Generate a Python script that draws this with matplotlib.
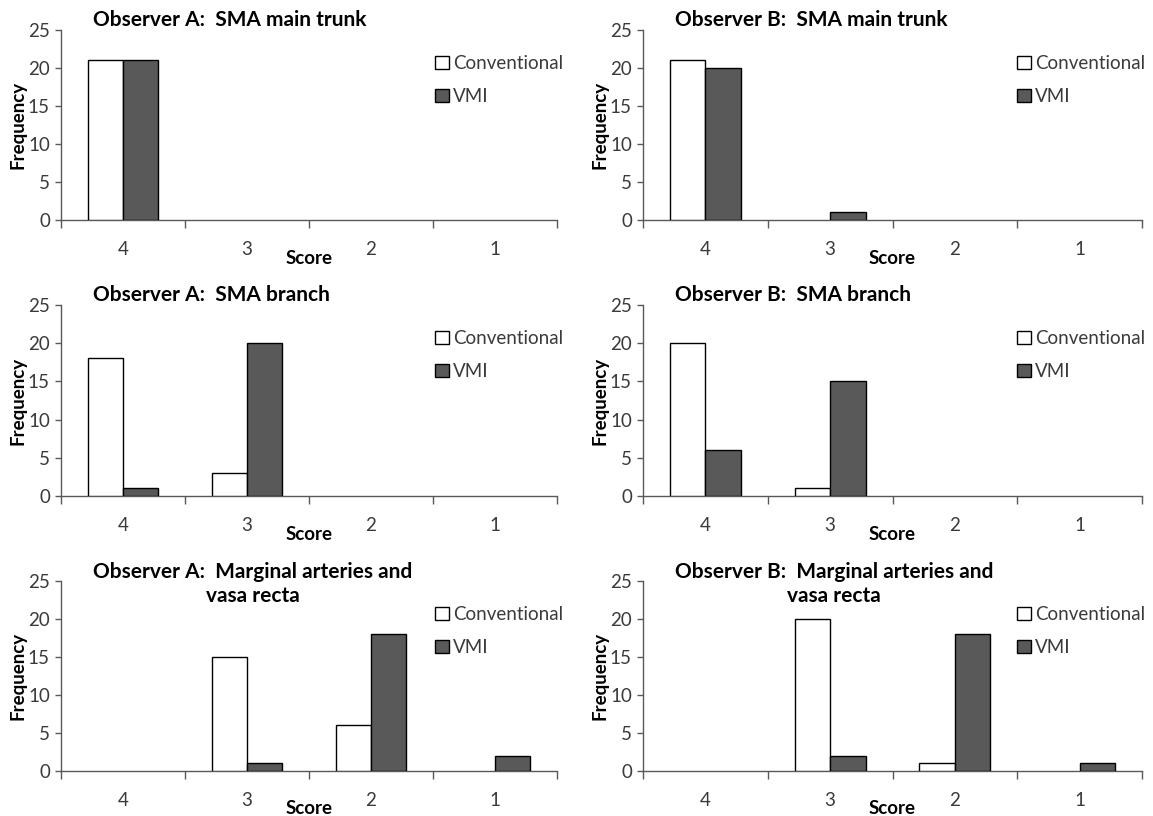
import matplotlib
matplotlib.use('Agg')
import numpy as np
import matplotlib.pyplot as plt
from matplotlib.patches import Patch

plt.rcParams['font.family'] = ['Lato', 'DejaVu Sans']

scores = ['4', '3', '2', '1']
series = ['Conventional', 'VMI']

titles = [
    'Observer A:  SMA main trunk',
    'Observer B:  SMA main trunk',
    'Observer A:  SMA branch',
    'Observer B:  SMA branch',
    'Observer A:  Marginal arteries and\nvasa recta',
    'Observer B:  Marginal arteries and\nvasa recta',
]

a_trunk_conv = [21, 0, 0, 0]
a_trunk_vmi = [21, 0, 0, 0]
b_trunk_conv = [21, 0, 0, 0]
b_trunk_vmi = [20, 1, 0, 0]
a_branch_conv = [18, 3, 0, 0]
a_branch_vmi = [1, 20, 0, 0]
b_branch_conv = [20, 1, 0, 0]
b_branch_vmi = [6, 15, 0, 0]
a_marg_conv = [0, 15, 6, 0]
a_marg_vmi = [0, 1, 18, 2]
b_marg_conv = [0, 20, 1, 0]
b_marg_vmi = [0, 2, 18, 1]

panel_data = [
    (a_trunk_conv, a_trunk_vmi),
    (b_trunk_conv, b_trunk_vmi),
    (a_branch_conv, a_branch_vmi),
    (b_branch_conv, b_branch_vmi),
    (a_marg_conv, a_marg_vmi),
    (b_marg_conv, b_marg_vmi),
]

W, H = 1153, 816
fig = plt.figure(figsize=(W / 100, H / 100), dpi=100)
fig.patch.set_facecolor('white')

# axes boxes in pixels: left, right, top, bottom
col_x = [(61, 557), (643, 1142)]
row_y = [(30, 220), (305, 496), (581, 771)]

axis_col = '#595959'
text_col = '#3a3a3a'
conv_col = 'white'
vmi_col = '#595959'
bar_w = 0.285

for k, (conv, vmi) in enumerate(panel_data):
    r, c = divmod(k, 2)
    x0, x1 = col_x[c]
    t, b = row_y[r]
    aw, ah = x1 - x0, b - t
    ax = fig.add_axes([x0 / W, 1 - b / H, aw / W, ah / H])
    x = np.arange(len(scores))
    # zero-height bars get no outline, as in the original
    ax.bar(x - bar_w / 2, conv, bar_w, color=conv_col, edgecolor='black',
           linewidth=[1.0 if v > 0 else 0 for v in conv], zorder=3)
    ax.bar(x + bar_w / 2, vmi, bar_w, color=vmi_col, edgecolor='black',
           linewidth=[1.0 if v > 0 else 0 for v in vmi], zorder=3)

    ax.set_xlim(-0.5, 3.5)
    ax.set_ylim(0, 25)
    ax.set_yticks(range(0, 26, 5))
    ax.set_xticks(x)
    ax.set_xticklabels(scores)
    ax.set_xticks(np.arange(-0.5, 4, 1), minor=True)
    ax.tick_params(axis='x', which='major', length=0, pad=15,
                   labelsize=13.5, labelcolor=text_col)
    ax.tick_params(axis='x', which='minor', length=6, width=1, color=axis_col,
                   direction='out')
    ax.tick_params(axis='y', length=4, width=1, color=axis_col, pad=4,
                   labelsize=13.5, labelcolor=text_col)
    for s in ['top', 'right']:
        ax.spines[s].set_visible(False)
    for s in ['left', 'bottom']:
        ax.spines[s].set_color(axis_col)
        ax.spines[s].set_linewidth(1.0)

    ax.text(-43 / aw, 0.5, 'Frequency', transform=ax.transAxes, rotation=90,
            ha='center', va='center', fontsize=13.5, fontweight='bold',
            color='black')
    ax.text(0.5, -38 / ah, 'Score', transform=ax.transAxes, ha='center',
            va='center', fontsize=13.5, fontweight='bold', color='black')

    nlines = titles[k].count('\n') + 1
    dy = 10 if nlines == 1 else -3
    ax.annotate(titles[k], xy=(0, 1), xycoords='axes fraction',
                xytext=(32, dy), textcoords='offset pixels', ha='left',
                va='center', multialignment='center', fontsize=15,
                fontweight='bold', color='black', linespacing=1.25)

    handles = [Patch(facecolor=conv_col, edgecolor='black', linewidth=1.0),
               Patch(facecolor=vmi_col, edgecolor='black', linewidth=1.0)]
    ax.legend(handles, series, loc='upper left',
              bbox_to_anchor=(374 / aw, 1 - 25 / ah),
              frameon=False, fontsize=13.5, handlelength=0.75,
              handleheight=0.75, handletextpad=0.2, labelspacing=0.85,
              borderpad=0, borderaxespad=0, labelcolor=text_col)

plt.savefig('out.png', dpi=100, facecolor='white')
